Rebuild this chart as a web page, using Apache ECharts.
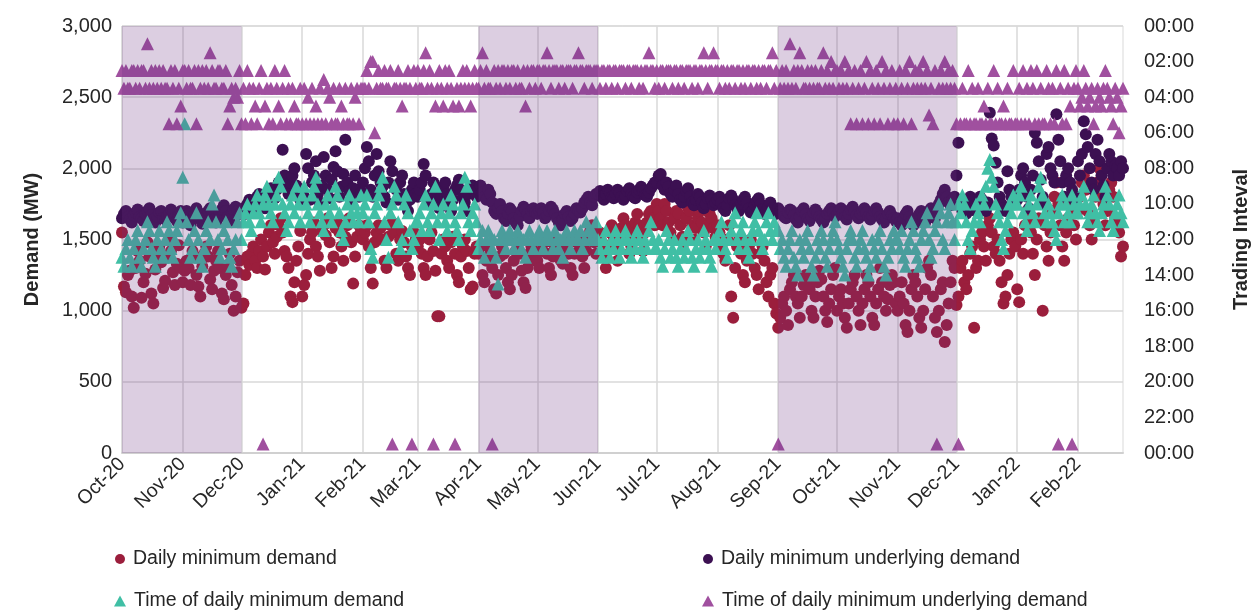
<!DOCTYPE html>
<html>
<head>
<meta charset="utf-8">
<title>Daily minimum demand</title>
<script src="https://cdn.jsdelivr.net/npm/echarts@6/dist/echarts.min.js"></script>
<style>
  html, body { margin: 0; padding: 0; background: #fff; }
  #chart { width: 1255px; height: 611px; }
</style>
</head>
<body>
<div id="chart"></div>
<script>
// Months covered by the data, one row per month in each series below
const months = ['2020-10', '2020-11', '2020-12', '2021-01', '2021-02', '2021-03', '2021-04', '2021-05', '2021-06',
  '2021-07', '2021-08', '2021-09', '2021-10', '2021-11', '2021-12', '2022-01', '2022-02'];
const firstDay = '2020-10-01';
const lastDay = '2022-02-24';
const monthNames = ['Jan', 'Feb', 'Mar', 'Apr', 'May', 'Jun', 'Jul', 'Aug', 'Sep', 'Oct', 'Nov', 'Dec'];

// Shaded periods (start, end)
const shadedPeriods = [
  ['2020-10-01', '2020-12-01'],
  ['2021-04-01', '2021-06-01'],
  ['2021-09-01', '2021-12-01']
];

// Daily minimum demand (MW)
const minDemand = [
  [1550,1170,1130,1250,1280,1100,1020,1300,1420,1350,1090,1200,1260,1480,1380,1120,1050,1290,1400,1450,1340,1160,1210,1380,1500,1420,1270,1180,1330,1460,1300],
  [1200,1280,1350,1300,1180,1420,1380,1250,1170,1100,1310,1400,1450,1380,1220,1150,1280,1350,1420,1300,1120,1080,1250,1320,1400,1180,1000,1100,1270,1350],
  [1020,1050,1250,1380,1320,1400,1450,1350,1300,1420,1500,1380,1290,1450,1550,1600,1480,1400,1520,1600,1650,1550,1420,1380,1300,1100,1060,1200,1350,1450,1560],
  [1100,1180,1250,1400,1500,1550,1620,1450,1380,1280,1560,1600,1530,1650,1480,1300,1380,1580,1620,1550,1450,1350,1520,1600,1650,1480,1190,1380,1520,1600,1560],
  [1500,1550,1600,1450,1300,1190,1480,1550,1600,1580,1500,1350,1300,1520,1600,1620,1550,1400,1350,1500,1560,1480,1380,1300,1250,1450,1550,1500],
  [1450,1500,1400,1300,1250,1380,1500,1550,1420,1280,960,960,1400,1500,1450,1350,1300,1480,1520,1400,1250,1200,1380,1450,1500,1420,1300,1150,1170,1400,1450],
  [1400,1450,1250,1200,1350,1450,1400,1300,1150,1120,1250,1380,1450,1400,1300,1200,1150,1250,1350,1420,1480,1400,1280,1200,1160,1300,1400,1450,1420,1350],
  [1350,1300,1420,1500,1480,1400,1300,1250,1380,1450,1500,1420,1350,1330,1450,1500,1400,1300,1250,1400,1480,1520,1450,1380,1300,1420,1500,1560,1600,1480,1400],
  [1500,1550,1480,1400,1300,1450,1550,1600,1520,1450,1350,1500,1580,1650,1600,1500,1400,1450,1550,1620,1680,1600,1500,1420,1550,1620,1680,1700,1650,1600],
  [1750,1700,1650,1600,1750,1700,1620,1550,1500,1650,1700,1680,1600,1520,1480,1650,1720,1700,1600,1500,1580,1650,1700,1620,1550,1450,1600,1680,1650,1580,1520],
  [1600,1550,1450,1400,1350,1500,1600,1100,950,1300,1450,1500,1400,1250,1200,1350,1450,1500,1400,1300,1250,1150,1400,1450,1350,1200,1100,1250,1300,1050,980],
  [880,950,1050,1100,1000,900,1150,1200,1250,1100,1050,950,1100,1180,1250,1200,1150,1000,950,1100,1200,1280,1220,1100,1000,920,1050,1150,1250,1300],
  [1000,1100,1150,1050,950,880,1050,1150,1200,1250,1100,1000,900,1050,1150,1250,1200,1100,950,900,1050,1150,1300,1200,1100,1000,1080,1180,1250,1200,1050],
  [1000,1100,1200,1050,900,850,1000,1150,1250,1200,1100,950,880,1000,1150,1300,1350,1250,1100,950,850,1000,1150,1200,780,900,1050,1200,1350,1300],
  [1040,1100,1300,1350,1200,1150,1250,1400,1450,880,1300,1350,1500,1550,1450,1350,1600,1650,1550,1450,1400,1500,1350,1200,1050,1100,1250,1400,1500,1550,1450],
  [1150,1060,1500,1400,1600,1700,1650,1550,1400,1250,1500,1650,1750,1000,1600,1450,1350,1550,1700,1800,1900,1750,1600,1450,1350,1550,1650,1750,1700,1600,1500],
  [1700,1800,1900,1950,1850,1700,1600,1500,1650,1800,1900,2000,1850,1750,1600,1700,1850,1900,1800,1650,1600,1550,1380,1450]
];

// Daily minimum underlying demand (MW)
const minUnderlying = [
  [1650,1680,1700,1660,1640,1620,1670,1690,1710,1660,1650,1630,1680,1700,1720,1670,1640,1620,1660,1690,1700,1650,1640,1660,1680,1710,1690,1650,1630,1670,1700],
  [1620,1650,1700,1680,1600,1640,1670,1720,1690,1650,1610,1630,1660,1700,1720,1680,1640,1620,1650,1690,1710,1740,1700,1660,1630,1680,1710,1730,1700,1680],
  [1700,1720,1680,1750,1780,1740,1700,1760,1800,1820,1780,1750,1720,1800,1840,1860,1820,1790,1850,1900,1880,2130,1950,1870,1820,1900,1950,2000,1880,1830,1780],
  [1850,1800,2100,2000,1780,1900,1950,2050,1820,1760,1880,2080,1950,1850,1790,1920,2010,2120,1980,1800,1870,1960,2200,1900,1840,1780,1860,1950,1850,1800,1830],
  [1900,2000,2150,2050,1850,1800,1950,2100,1980,1900,1870,1800,1760,1900,2050,1980,1880,1850,1780,1900,1950,1820,1750,1700,1780,1850,1900,1820],
  [1800,1850,1900,2030,1950,1800,1750,1820,1900,1850,1780,1720,1800,1870,1900,1820,1760,1700,1780,1850,1880,1920,1850,1800,1760,1700,1820,1860,1880,1840,1800],
  [1850,1880,1830,1800,1780,1850,1820,1760,1700,1680,1720,1750,1700,1650,1630,1680,1720,1700,1650,1620,1600,1660,1700,1730,1710,1680,1650,1700,1720,1690],
  [1680,1700,1720,1690,1650,1670,1700,1730,1710,1680,1650,1620,1600,1640,1680,1700,1660,1630,1650,1680,1720,1700,1690,1720,1760,1780,1800,1760,1740,1800,1820],
  [1820,1840,1800,1780,1820,1850,1830,1800,1790,1820,1850,1830,1800,1780,1810,1840,1860,1820,1800,1790,1830,1850,1870,1840,1810,1800,1830,1860,1880,1900],
  [1900,1950,1960,1880,1850,1900,1870,1820,1800,1850,1880,1820,1780,1760,1800,1840,1860,1800,1760,1740,1780,1820,1800,1760,1720,1750,1790,1810,1780,1740,1760],
  [1780,1800,1760,1720,1700,1740,1790,1810,1780,1740,1720,1700,1750,1780,1800,1760,1720,1690,1700,1740,1770,1790,1750,1710,1680,1700,1730,1760,1720,1690,1680],
  [1720,1700,1680,1660,1650,1690,1710,1700,1670,1640,1620,1660,1700,1720,1680,1650,1630,1660,1690,1710,1690,1660,1640,1620,1650,1680,1700,1720,1690,1660],
  [1680,1700,1720,1690,1660,1640,1680,1710,1730,1700,1670,1650,1680,1700,1720,1690,1660,1640,1670,1700,1720,1690,1660,1640,1620,1650,1680,1700,1670,1650,1630],
  [1650,1620,1600,1640,1680,1700,1660,1630,1600,1620,1650,1680,1700,1660,1620,1650,1700,1720,1680,1650,1700,1750,1780,1820,1850,1800,1760,1740,1780,1800],
  [1950,2180,1750,1700,1720,1680,1750,1800,1780,1720,1700,1750,1800,1780,1720,1700,1760,2390,2210,2160,2040,1900,1800,1750,1720,1700,1980,1850,1800,1760,1750],
  [1780,1850,1950,2000,1900,1800,1720,1850,1950,2250,2180,2050,1920,1800,1750,2100,2150,2000,1950,1900,2380,2200,2050,1900,1800,1950,2000,1900,1850,1780,1800],
  [2050,1950,2100,2330,2240,2150,2000,1900,1850,2100,2200,2050,1950,1880,1800,2000,2100,2050,1950,2020,2000,1950,2050,2000]
];

// Time of daily minimum demand (trading interval, 48 per day)
const timeMinDemand = [
  [26,27,25,24,26,27,25,24,23,26,27,25,24,22,23,25,26,27,24,23,25,26,24,22,23,25,26,24,23,22,21],
  [17,11,22,24,26,25,23,21,24,26,27,25,23,22,24,20,19,22,24,26,25,23,22,24,26,27,25,24,22,21],
  [24,22,21,20,22,23,21,20,19,21,22,20,19,18,20,21,22,20,19,17,18,20,21,23,22,20,19,21,18,20,22],
  [19,18,20,21,22,19,18,17,20,21,22,23,20,19,21,22,20,18,19,21,23,24,22,20,19,21,22,20,21,22,19],
  [21,20,19,22,25,26,21,20,19,18,17,22,24,26,21,20,18,19,22,25,24,20,19,21,23,25,24,22],
  [22,21,23,20,19,22,23,21,20,18,22,24,21,20,22,23,21,19,20,22,23,24,21,20,17,18,22,23,21,20,22],
  [25,24,23,26,24,23,24,25,24,26,29,24,23,24,25,24,23,24,25,24,23,24,25,24,26,24,23,24,25,24],
  [24,23,24,25,24,23,24,24,25,23,24,25,24,26,24,23,24,25,24,23,24,24,23,25,24,22,23,24,23,24,22],
  [24,25,26,24,23,25,26,24,25,23,24,26,25,24,23,24,25,26,24,25,23,24,25,26,24,25,23,22,24,25],
  [25,24,26,27,25,23,24,26,25,24,26,27,25,24,26,25,23,24,26,27,25,24,26,25,23,24,25,26,27,24,25],
  [24,23,22,24,25,26,24,23,22,21,24,25,23,22,24,25,26,24,23,22,21,23,24,25,24,22,21,23,24,22,23],
  [23,25,24,26,27,25,24,23,26,27,28,24,25,26,24,23,25,27,28,26,24,25,23,24,26,27,25,24,23,22],
  [24,25,26,27,28,25,24,23,24,26,27,25,24,23,25,26,28,27,24,25,26,24,23,25,27,28,26,24,25,23,24],
  [24,25,23,26,27,25,24,22,23,25,26,27,24,23,22,21,24,26,25,23,22,20,21,24,25,22,21,20,22,24],
  [22,20,21,19,20,22,24,25,23,22,20,21,22,19,20,18,16,15,17,18,20,21,22,24,25,23,22,20,21,19,20],
  [20,19,18,21,22,23,20,19,21,22,20,18,17,19,21,22,20,21,22,23,24,21,20,19,22,20,21,22,19,20,21],
  [21,20,19,18,20,22,21,20,19,21,22,23,21,20,18,19,20,22,23,21,20,19,21,22]
];

// Time of daily minimum underlying demand (trading interval, 48 per day)
const timeMinUnderlying = [
  [5,7,5,7,7,5,5,7,5,7,5,5,7,2,7,5,7,5,7,5,7,5,7,7,11,5,7,5,11,7,9],
  [5,5,7,5,7,7,5,11,5,7,5,7,5,7,3,5,7,7,5,5,7,7,5,11,9,7,8,7,8,5],
  [11,7,11,5,7,11,7,9,11,7,5,47,9,7,11,7,11,5,7,9,11,7,5,11,7,11,7,9,11,11,7],
  [11,7,11,8,11,7,11,9,11,7,11,6,11,7,8,11,7,11,11,7,9,11,7,11,11,7,11,8,7,11,7],
  [7,7,5,7,4,4,12,7,5,7,7,5,7,7,5,47,7,7,5,7,9,7,7,5,7,47,5,7],
  [5,7,7,5,3,7,5,7,47,9,7,5,7,9,5,7,5,7,9,47,7,9,7,5,7,5,7,9,7,5,7],
  [7,5,3,7,5,7,7,47,5,7,5,7,5,5,7,5,7,5,5,7,5,7,7,5,9,5,7,5,5,7],
  [5,5,7,5,5,3,5,7,5,5,5,7,5,5,7,5,5,5,7,5,5,3,5,5,7,5,5,5,7,5,5],
  [5,7,5,5,7,5,5,7,5,5,7,5,5,5,7,5,5,7,5,5,5,7,5,7,5,5,3,5,5,7],
  [5,7,5,5,7,5,5,5,7,5,5,7,5,5,7,5,5,5,7,5,5,7,5,5,3,5,7,5,5,3,5],
  [5,7,5,5,7,5,7,5,5,7,5,5,7,5,7,5,5,7,5,5,7,5,7,5,5,7,5,5,3,7,5],
  [47,7,5,7,5,7,2,7,5,7,5,3,5,7,7,5,7,5,7,5,7,7,5,3,7,5,7,4,7,5],
  [5,7,5,7,4,7,5,11,7,5,11,7,5,11,7,4,11,5,7,11,5,7,11,4,7,5,11,7,5,11,7],
  [11,5,7,11,5,7,4,11,7,5,7,5,7,4,7,5,10,7,11,5,47,7,5,7,4,7,5,7,5,7],
  [11,47,11,7,11,11,5,11,7,11,11,7,11,11,9,11,7,11,11,5,11,7,11,11,9,11,7,11,11,5,11],
  [11,7,11,5,11,7,11,5,7,11,5,11,7,11,11,5,7,11,7,11,5,47,7,11,5,11,7,9,47,7,5],
  [7,9,8,5,7,9,8,7,11,9,7,8,9,7,5,7,8,9,11,7,8,12,9,7]
];

// Build the list of days for the category axis
function buildDates() {
  const out = [];
  const d = new Date(firstDay + 'T00:00:00Z');
  const end = new Date(lastDay + 'T00:00:00Z');
  while (d <= end) {
    out.push(d.toISOString().slice(0, 10));
    d.setUTCDate(d.getUTCDate() + 1);
  }
  return out;
}

// Turn the per-month rows into [date, value] points
function toPoints(rows) {
  const points = [];
  rows.forEach((row, m) => {
    row.forEach((v, i) => {
      points.push([months[m] + '-' + String(i + 1).padStart(2, '0'), v]);
    });
  });
  return points;
}

function isMonthStart(index, value) {
  return value.slice(8) === '01';
}

function monthLabel(value) {
  const parts = value.split('-');
  return monthNames[Number(parts[1]) - 1] + '-' + parts[0].slice(2);
}

function intervalLabel(v) {
  const h = (v / 2) % 24;
  return String(h).padStart(2, '0') + ':00';
}

const dates = buildDates();
const fontFamily = 'Liberation Sans, Arial, sans-serif';
const textColor = '#262626';

const chart = echarts.init(document.getElementById('chart'));

// Legend text, pushed a little away from the marker
const legendText = { fontSize: 19.5, color: textColor, fontFamily: fontFamily, padding: [0, 0, 0, 3] };

const option = {
  animation: false,
  backgroundColor: '#fff',
  grid: {
    left: 122,
    right: 132,
    top: 26,
    bottom: 158,
    show: true,
    borderColor: '#d9d9d9',
    borderWidth: 1,
    outerBoundsMode: 'none'
  },
  legend: [
    { left: 110, top: 544, itemWidth: 10, itemHeight: 10, textStyle: legendText,
      data: [{ name: 'Daily minimum demand', icon: 'circle' }] },
    { left: 698, top: 544, itemWidth: 10, itemHeight: 10, textStyle: legendText,
      data: [{ name: 'Daily minimum underlying demand', icon: 'circle' }] },
    { left: 109, top: 586, itemWidth: 12, itemHeight: 11, textStyle: legendText,
      data: [{ name: 'Time of daily minimum demand', icon: 'triangle' }] },
    { left: 697, top: 586, itemWidth: 12, itemHeight: 11, textStyle: legendText,
      data: [{ name: 'Time of daily minimum underlying demand', icon: 'triangle' }] }
  ],
  xAxis: {
    type: 'category',
    data: dates,
    boundaryGap: false,
    axisLine: { lineStyle: { color: '#d0d0d0', width: 2 } },
    axisTick: { show: false },
    axisLabel: {
      interval: isMonthStart,
      formatter: monthLabel,
      rotate: 45,
      margin: 8,
      fontSize: 19.5,
      color: textColor,
      fontFamily: fontFamily
    },
    splitLine: {
      show: true,
      interval: isMonthStart,
      lineStyle: { color: '#d9d9d9', width: 1.5 }
    }
  },
  yAxis: [
    {
      type: 'value',
      min: 0,
      max: 3000,
      interval: 500,
      name: 'Demand (MW)',
      nameLocation: 'middle',
      nameRotate: 90,
      nameGap: 80,
      nameTextStyle: { fontSize: 20, fontWeight: 'bold', color: textColor, fontFamily: fontFamily },
      axisLine: { show: false },
      axisTick: { show: false },
      axisLabel: {
        margin: 10,
        fontSize: 20,
        color: textColor,
        fontFamily: fontFamily,
        formatter: (v) => v.toLocaleString('en-US')
      },
      splitLine: { lineStyle: { color: '#d9d9d9', width: 1.5 } }
    },
    {
      type: 'value',
      position: 'right',
      min: 0,
      max: 48,
      interval: 4,
      inverse: true,
      name: 'Trading Inteval',
      nameLocation: 'middle',
      nameRotate: 90,
      nameGap: 108,
      nameTextStyle: { fontSize: 20, fontWeight: 'bold', color: textColor, fontFamily: fontFamily },
      axisLine: { show: false },
      axisTick: { show: false },
      axisLabel: {
        margin: 21,
        fontSize: 20,
        color: textColor,
        fontFamily: fontFamily,
        formatter: intervalLabel
      },
      splitLine: { show: false }
    }
  ],
  series: [
    {
      name: 'Daily minimum demand',
      type: 'scatter',
      symbol: 'circle',
      symbolSize: 12,
      itemStyle: { color: '#9b1e3c', opacity: 1 },
      data: toPoints(minDemand)
    },
    {
      name: 'Daily minimum underlying demand',
      type: 'scatter',
      symbol: 'circle',
      symbolSize: 12,
      itemStyle: { color: '#3c1052', opacity: 1 },
      data: toPoints(minUnderlying)
    },
    {
      name: 'Time of daily minimum demand',
      type: 'scatter',
      yAxisIndex: 1,
      symbol: 'triangle',
      symbolSize: 13,
      itemStyle: { color: '#40bfa5', opacity: 1 },
      data: toPoints(timeMinDemand)
    },
    {
      name: 'Time of daily minimum underlying demand',
      type: 'scatter',
      yAxisIndex: 1,
      symbol: 'triangle',
      symbolSize: 13,
      itemStyle: { color: '#a0509f', opacity: 1 },
      data: toPoints(timeMinUnderlying)
    },
    {
      // Shaded periods, drawn over the points
      name: 'shade',
      type: 'custom',
      z: 10,
      silent: true,
      encode: { x: [0, 1] },
      data: shadedPeriods.map((p) => [dates.indexOf(p[0]), dates.indexOf(p[1])]),
      renderItem: function (params, api) {
        const p0 = api.coord([api.value(0), 3000]);
        const p1 = api.coord([api.value(1), 0]);
        return {
          type: 'rect',
          shape: { x: p0[0], y: p0[1], width: p1[0] - p0[0], height: p1[1] - p0[1] },
          style: { fill: 'rgba(110, 50, 130, 0.24)' }
        };
      }
    }
  ]
};

chart.setOption(option);
</script>
</body>
</html>
